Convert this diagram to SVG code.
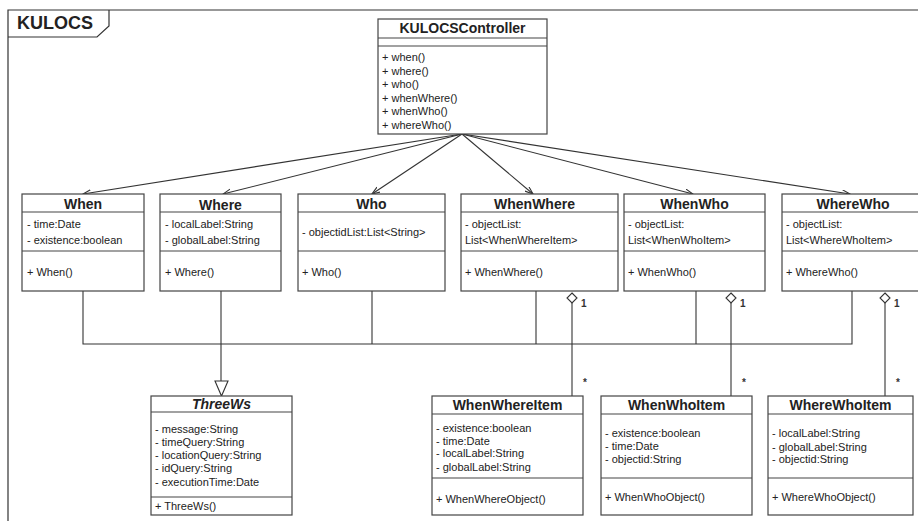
<svg xmlns="http://www.w3.org/2000/svg" width="918" height="521" viewBox="0 0 918 521">
  <style>
    .box { fill: #fff; stroke: #444; stroke-width: 1.2; }
    .sep { stroke: #444; stroke-width: 1.2; }
    .t { font-family: "Liberation Sans", Arial, sans-serif; font-size: 11px; fill: #222; }
    .h { font-family: "Liberation Sans", Arial, sans-serif; font-size: 14px; font-weight: bold; fill: #222; text-anchor: middle; }
    .it { font-style: italic; }
    .ln { fill: none; stroke: #333; stroke-width: 1.1; }
    .m { font-family: "Liberation Sans", Arial, sans-serif; font-size: 10px; font-weight: bold; fill: #333; }
  </style>
  <defs>
    <marker id="open" markerWidth="10" markerHeight="8" refX="8" refY="3" orient="auto" markerUnits="userSpaceOnUse">
      <path d="M0,0 L8,3 L0,6" fill="none" stroke="#333" stroke-width="1.1"/>
    </marker>
  </defs>
  <rect width="918" height="521" fill="#fff"/>

  <!-- package frame -->
  <g id="frame">
    <path d="M8,521 V10 H918" fill="none" stroke="#333" stroke-width="1.2"/>
    <path d="M8,37 H97 L109,26 V10" fill="none" stroke="#333" stroke-width="1.2"/>
    <text x="17" y="29" font-family="Liberation Sans, Arial, sans-serif" font-size="18" font-weight="bold" fill="#222">KULOCS</text>
  </g>

  <!-- connectors -->
  <g id="connectors">
    <line class="ln" x1="462" y1="134" x2="83" y2="194" marker-end="url(#open)"/>
    <line class="ln" x1="462" y1="134" x2="223" y2="194" marker-end="url(#open)"/>
    <line class="ln" x1="462" y1="134" x2="372" y2="194" marker-end="url(#open)"/>
    <line class="ln" x1="462" y1="134" x2="533" y2="194" marker-end="url(#open)"/>
    <line class="ln" x1="462" y1="134" x2="693" y2="194" marker-end="url(#open)"/>
    <line class="ln" x1="462" y1="134" x2="850" y2="194" marker-end="url(#open)"/>

    <!-- generalization tree -->
    <path class="ln" d="M83,291 V344 H852 V291"/>
    <path class="ln" d="M372,291 V344"/>
    <path class="ln" d="M536,291 V344"/>
    <path class="ln" d="M696,291 V344"/>
    <path class="ln" d="M221,291 V381"/>
    <polygon points="215,381 228,381 221.5,396" fill="#fff" stroke="#333" stroke-width="1.1"/>

    <!-- aggregations -->
    <path class="ln" d="M572,303 V396"/>
    <polygon points="572,293 577,298 572,303 567,298" fill="#fff" stroke="#333" stroke-width="1.1"/>
    <text class="m" x="581" y="307">1</text>
    <text class="m" x="583" y="386">*</text>

    <path class="ln" d="M731,303 V396"/>
    <polygon points="731,293 736,298 731,303 726,298" fill="#fff" stroke="#333" stroke-width="1.1"/>
    <text class="m" x="740" y="307">1</text>
    <text class="m" x="742" y="386">*</text>

    <path class="ln" d="M885,303 V396"/>
    <polygon points="885,293 890,298 885,303 880,298" fill="#fff" stroke="#333" stroke-width="1.1"/>
    <text class="m" x="894" y="307">1</text>
    <text class="m" x="896" y="386">*</text>
  </g>

  <!-- controller -->
  <g id="KULOCSController">
    <rect class="box" x="378" y="19" width="169" height="115"/>
    <line class="sep" x1="378" y1="38" x2="547" y2="38"/>
    <line class="sep" x1="378" y1="46" x2="547" y2="46"/>
    <text class="h" x="462.5" y="33">KULOCSController</text>
    <text class="t" x="382" y="61">+ when()</text>
    <text class="t" x="382" y="74.5">+ where()</text>
    <text class="t" x="382" y="88">+ who()</text>
    <text class="t" x="382" y="101.5">+ whenWhere()</text>
    <text class="t" x="382" y="115">+ whenWho()</text>
    <text class="t" x="382" y="128.5">+ whereWho()</text>
  </g>

  <g id="When">
    <rect class="box" x="22" y="194" width="122" height="97"/>
    <line class="sep" x1="22" y1="212" x2="144" y2="212"/>
    <line class="sep" x1="22" y1="251" x2="144" y2="251"/>
    <text class="h" x="83" y="209">When</text>
    <text class="t" x="27" y="228">- time:Date</text>
    <text class="t" x="27" y="244">- existence:boolean</text>
    <text class="t" x="27" y="276">+ When()</text>
  </g>

  <g id="Where">
    <rect class="box" x="160" y="194" width="121" height="97"/>
    <line class="sep" x1="160" y1="212" x2="281" y2="212"/>
    <line class="sep" x1="160" y1="251" x2="281" y2="251"/>
    <text class="h" x="220.5" y="210" font-size="16">Where</text>
    <text class="t" x="165" y="228">- localLabel:String</text>
    <text class="t" x="165" y="244">- globalLabel:String</text>
    <text class="t" x="165" y="276">+ Where()</text>
  </g>

  <g id="Who">
    <rect class="box" x="298" y="194" width="147" height="97"/>
    <line class="sep" x1="298" y1="212" x2="445" y2="212"/>
    <line class="sep" x1="298" y1="251" x2="445" y2="251"/>
    <text class="h" x="371.5" y="209">Who</text>
    <text class="t" x="302" y="236">- objectidList:List&lt;String&gt;</text>
    <text class="t" x="302" y="276">+ Who()</text>
  </g>

  <g id="WhenWhere">
    <rect class="box" x="461" y="194" width="157" height="97"/>
    <line class="sep" x1="461" y1="212" x2="618" y2="212"/>
    <line class="sep" x1="461" y1="251" x2="618" y2="251"/>
    <text class="h" x="534.5" y="209">WhenWhere</text>
    <text class="t" x="465" y="228">- objectList:</text>
    <text class="t" x="465" y="244">List&lt;WhenWhereItem&gt;</text>
    <text class="t" x="465" y="276">+ WhenWhere()</text>
  </g>

  <g id="WhenWho">
    <rect class="box" x="624" y="194" width="141" height="97"/>
    <line class="sep" x1="624" y1="212" x2="765" y2="212"/>
    <line class="sep" x1="624" y1="251" x2="765" y2="251"/>
    <text class="h" x="694.5" y="209">WhenWho</text>
    <text class="t" x="628" y="228">- objectList:</text>
    <text class="t" x="628" y="244">List&lt;WhenWhoItem&gt;</text>
    <text class="t" x="628" y="276">+ WhenWho()</text>
  </g>

  <g id="WhereWho">
    <rect class="box" x="782" y="194" width="145" height="97"/>
    <line class="sep" x1="782" y1="212" x2="927" y2="212"/>
    <line class="sep" x1="782" y1="251" x2="927" y2="251"/>
    <text class="h" x="853" y="209">WhereWho</text>
    <text class="t" x="786" y="228">- objectList:</text>
    <text class="t" x="786" y="244">List&lt;WhereWhoItem&gt;</text>
    <text class="t" x="786" y="276">+ WhereWho()</text>
  </g>

  <g id="ThreeWs">
    <rect class="box" x="151" y="396" width="141" height="119"/>
    <line class="sep" x1="151" y1="412" x2="292" y2="412"/>
    <line class="sep" x1="151" y1="497" x2="292" y2="497"/>
    <text class="h it" x="221.5" y="409">ThreeWs</text>
    <text class="t" x="155" y="433">- message:String</text>
    <text class="t" x="155" y="445.5">- timeQuery:String</text>
    <text class="t" x="155" y="459">- locationQuery:String</text>
    <text class="t" x="155" y="472">- idQuery:String</text>
    <text class="t" x="155" y="485.5">- executionTime:Date</text>
    <text class="t" x="155" y="510">+ ThreeWs()</text>
  </g>

  <g id="WhenWhereItem">
    <rect class="box" x="432" y="396" width="151" height="119"/>
    <line class="sep" x1="432" y1="414" x2="583" y2="414"/>
    <line class="sep" x1="432" y1="478" x2="583" y2="478"/>
    <text class="h" x="507.5" y="410">WhenWhereItem</text>
    <text class="t" x="436" y="432">- existence:boolean</text>
    <text class="t" x="436" y="444.5">- time:Date</text>
    <text class="t" x="436" y="457">- localLabel:String</text>
    <text class="t" x="436" y="470.5">- globalLabel:String</text>
    <text class="t" x="436" y="503">+ WhenWhereObject()</text>
  </g>

  <g id="WhenWhoItem">
    <rect class="box" x="601" y="396" width="151" height="119"/>
    <line class="sep" x1="601" y1="414" x2="752" y2="414"/>
    <line class="sep" x1="601" y1="478" x2="752" y2="478"/>
    <text class="h" x="676.5" y="410">WhenWhoItem</text>
    <text class="t" x="605" y="437">- existence:boolean</text>
    <text class="t" x="605" y="450">- time:Date</text>
    <text class="t" x="605" y="462.5">- objectid:String</text>
    <text class="t" x="605" y="501">+ WhenWhoObject()</text>
  </g>

  <g id="WhereWhoItem">
    <rect class="box" x="768" y="396" width="145" height="119"/>
    <line class="sep" x1="768" y1="414" x2="913" y2="414"/>
    <line class="sep" x1="768" y1="478" x2="913" y2="478"/>
    <text class="h" x="840.5" y="410">WhereWhoItem</text>
    <text class="t" x="772" y="437">- localLabel:String</text>
    <text class="t" x="772" y="450.5">- globalLabel:String</text>
    <text class="t" x="772" y="463">- objectid:String</text>
    <text class="t" x="772" y="501">+ WhereWhoObject()</text>
  </g>
</svg>
